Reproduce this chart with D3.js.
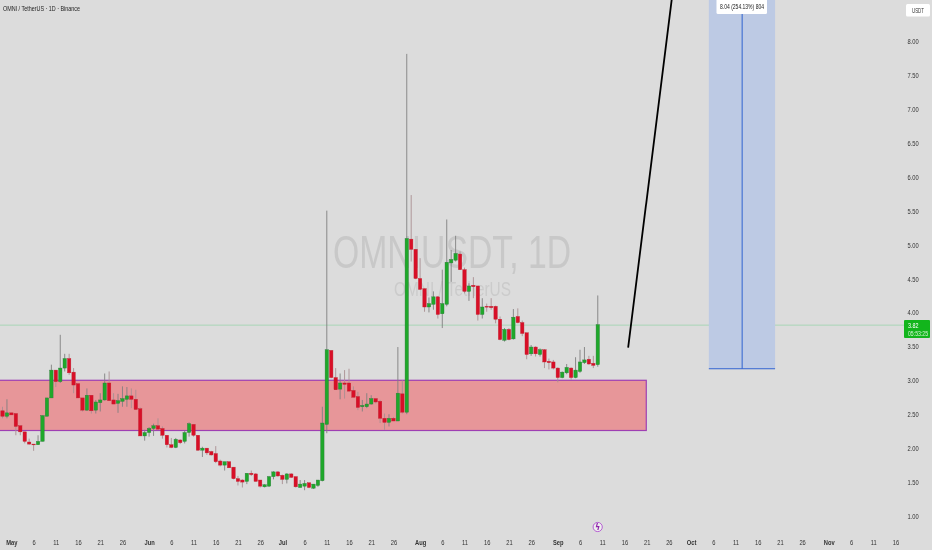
<!DOCTYPE html>
<html><head><meta charset="utf-8">
<script src="https://cdn.jsdelivr.net/npm/d3@7"></script>
<style>
html,body{margin:0;padding:0;background:#dcdcdc;overflow:hidden}
svg{display:block;filter:blur(0.2px)}
text{font-family:"Liberation Sans",Arial,sans-serif}
</style></head><body><svg id="c" width="932" height="550"></svg>
<script>
const startDate = "2025-04-29";
const opens = [2.55,2.47,2.52,2.51,2.33,2.24,2.09,2.06,2.05,2.10,2.47,2.74,3.15,2.98,3.18,3.32,3.12,2.95,2.74,2.56,2.78,2.56,2.67,2.71,2.96,2.71,2.66,2.69,2.72,2.77,2.72,2.58,2.18,2.23,2.29,2.33,2.29,2.19,2.05,2.01,2.12,2.10,2.23,2.35,2.19,1.97,2.00,1.95,1.92,1.81,1.75,1.80,1.72,1.55,1.53,1.51,1.63,1.62,1.53,1.43,1.44,1.58,1.65,1.60,1.54,1.62,1.58,1.42,1.44,1.49,1.41,1.45,1.52,2.35,3.44,3.04,2.87,2.96,2.96,2.85,2.76,2.61,2.61,2.65,2.73,2.69,2.44,2.38,2.44,2.40,2.80,2.53,5.08,4.93,4.50,4.35,4.08,4.12,4.23,3.98,4.12,4.73,4.77,4.86,4.63,4.31,4.40,4.39,3.97,4.09,4.09,4.09,3.90,3.59,3.75,3.61,3.94,3.85,3.70,3.39,3.49,3.38,3.45,3.28,3.27,3.18,3.04,3.11,3.18,3.04,3.13,3.26,3.31,3.25,3.23];
const closes = [2.47,2.52,2.49,2.32,2.24,2.10,2.06,2.05,2.10,2.48,2.74,3.15,2.98,3.18,3.32,3.11,2.93,2.74,2.56,2.78,2.55,2.68,2.71,2.96,2.70,2.65,2.70,2.73,2.77,2.72,2.57,2.18,2.23,2.29,2.33,2.28,2.19,2.05,2.01,2.13,2.08,2.23,2.36,2.19,1.97,2.00,1.93,1.90,1.80,1.75,1.80,1.71,1.55,1.51,1.50,1.63,1.61,1.51,1.44,1.46,1.58,1.65,1.59,1.54,1.62,1.57,1.43,1.47,1.48,1.42,1.47,1.53,2.37,3.45,3.04,2.86,2.96,2.94,2.84,2.75,2.60,2.63,2.65,2.73,2.68,2.44,2.38,2.44,2.40,2.81,2.53,5.09,4.93,4.50,4.34,4.08,4.13,4.23,3.97,4.13,4.74,4.78,4.87,4.63,4.31,4.39,4.38,3.97,4.08,4.08,4.07,3.90,3.60,3.75,3.60,3.93,3.85,3.69,3.38,3.49,3.39,3.45,3.27,3.26,3.18,3.04,3.12,3.19,3.04,3.15,3.27,3.30,3.24,3.22,3.82];
const highs = [2.61,2.72,2.52,2.51,2.34,2.24,2.14,2.06,2.19,2.48,2.74,3.23,3.15,3.67,3.39,3.39,3.18,2.95,2.74,2.88,2.78,2.71,2.81,3.10,3.13,2.81,2.80,2.91,2.90,2.88,2.86,2.60,2.27,2.31,2.36,2.44,2.32,2.19,2.15,2.15,2.13,2.26,2.38,2.35,2.19,2.02,2.00,1.96,2.03,1.83,1.80,1.80,1.72,1.59,1.54,1.63,1.67,1.63,1.53,1.47,1.59,1.66,1.66,1.61,1.63,1.63,1.58,1.53,1.53,1.49,1.47,1.53,2.61,5.50,3.44,3.18,3.10,3.15,3.17,2.91,2.83,2.71,2.81,2.78,2.73,2.71,2.51,2.50,2.46,3.49,3.00,7.81,5.73,4.93,4.80,4.35,4.22,4.31,4.24,4.63,5.37,4.92,5.13,4.90,4.66,4.43,4.52,4.39,4.21,4.13,4.21,4.10,3.94,3.77,3.77,4.05,4.06,3.88,3.70,3.52,3.50,3.47,3.46,3.32,3.30,3.19,3.13,3.24,3.19,3.34,3.45,3.49,3.36,3.36,4.25];
const lows = [2.44,2.44,2.49,2.19,2.19,2.07,2.05,1.96,2.05,2.10,2.47,2.74,2.90,2.96,3.13,3.08,2.81,2.74,2.54,2.55,2.51,2.51,2.54,2.70,2.70,2.65,2.52,2.61,2.61,2.59,2.57,2.18,2.11,2.17,2.18,2.28,2.14,2.01,2.00,2.00,2.06,2.07,2.17,2.17,1.96,1.87,1.90,1.89,1.78,1.73,1.67,1.71,1.54,1.45,1.42,1.47,1.59,1.51,1.42,1.42,1.43,1.54,1.58,1.47,1.48,1.56,1.42,1.42,1.38,1.41,1.40,1.43,1.51,2.22,3.03,2.86,2.72,2.73,2.84,2.75,2.56,2.54,2.59,2.64,2.66,2.37,2.27,2.32,2.40,2.40,2.51,2.50,4.75,4.49,4.33,4.01,4.00,4.04,3.91,3.77,4.09,4.45,4.75,4.63,4.28,4.17,4.21,3.88,3.91,4.01,4.04,3.84,3.59,3.57,3.59,3.60,3.84,3.65,3.31,3.36,3.35,3.35,3.18,3.16,3.16,2.97,3.03,3.09,3.01,3.03,3.11,3.24,3.23,3.18,3.20];

const priceTicks = [8,7.5,7,6.5,6,5.5,5,4.5,4,3.5,3,2.5,2,1.5,1];
const dateTicks = [["05-01","May"],["05-06","6"],["05-11","11"],["05-16","16"],["05-21","21"],["05-26","26"],["06-01","Jun"],["06-06","6"],["06-11","11"],["06-16","16"],["06-21","21"],["06-26","26"],["07-01","Jul"],["07-06","6"],["07-11","11"],["07-16","16"],["07-21","21"],["07-26","26"],["08-01","Aug"],["08-06","6"],["08-11","11"],["08-16","16"],["08-21","21"],["08-26","26"],["09-01","Sep"],["09-06","6"],["09-11","11"],["09-16","16"],["09-21","21"],["09-26","26"],["10-01","Oct"],["10-06","6"],["10-11","11"],["10-16","16"],["10-21","21"],["10-26","26"],["11-01","Nov"],["11-06","6"],["11-11","11"],["11-16","16"]];
const zonePrices = [3.0, 2.26];
const zoneEnd = "2025-09-20T22:00Z";
const boxDates = ["2025-10-05T00:00Z","2025-10-19T22:00Z"];
const boxMid = "2025-10-12T12:00Z";
const boxBottom = 3.17;
const arrowDates = ["2025-09-16T20:00Z","2025-09-26T16:00Z"];
const arrowPrices = [3.48, 8.62];
const lastPrice = 3.82;

const U = s => new Date(s);
const svg = d3.select("#c");
svg.append("rect").attr("width",932).attr("height",550).attr("fill","#dcdcdc");
const x = d3.scaleUtc().domain([U("2025-05-01T00:00Z"),U("2025-11-16T00:00Z")]).range([11.4,895.4]);
const y = d3.scaleLinear().domain([1,8]).range([516,41]);
// the reference's small labels are horizontally condensed
const squeeze = (sel,k) => sel.each(function(){
  const w = this.getComputedTextLength();
  d3.select(this).attr("textLength",w*k).attr("lengthAdjust","spacingAndGlyphs");
});

// watermark
svg.append("text").attr("x",333).attr("y",268).attr("textLength",238).attr("lengthAdjust","spacingAndGlyphs")
  .attr("font-size",46).attr("fill","#c8c8c8").text("OMNIUSDT, 1D");
svg.append("text").attr("x",394).attr("y",296).attr("textLength",117).attr("lengthAdjust","spacingAndGlyphs")
  .attr("font-size",20).attr("fill","#cbcbcb").text("OMNI / TetherUS");

// zone
const zx1 = x(U(zoneEnd));
svg.append("rect").attr("x",-3).attr("y",y(zonePrices[0])).attr("width",zx1+3).attr("height",y(zonePrices[1])-y(zonePrices[0]))
  .attr("fill","#e79699").attr("stroke","#9e3fb3").attr("stroke-width",1.2);

// price line
svg.append("line").attr("x1",0).attr("x2",904).attr("y1",y(lastPrice)+.5).attr("y2",y(lastPrice)+.5).attr("stroke","#a9d6b6").attr("stroke-width",1);

// box
const bx0=x(U(boxDates[0])), bx1=x(U(boxDates[1])), bxm=x(U(boxMid)), byb=y(boxBottom);
svg.append("rect").attr("x",bx0).attr("y",-2).attr("width",bx1-bx0).attr("height",byb+2).attr("fill","#bdcae4");
svg.append("line").attr("x1",bxm).attr("x2",bxm).attr("y1",0).attr("y2",byb).attr("stroke","#2f62d0").attr("stroke-width",1);
svg.append("line").attr("x1",bx0).attr("x2",bx1).attr("y1",byb).attr("y2",byb).attr("stroke","#2f62d0").attr("stroke-width",1.2);
svg.append("rect").attr("x",716.5).attr("y",-3).attr("width",50.5).attr("height",17).attr("rx",1.5).attr("fill","#fff");
svg.append("text").attr("x",742).attr("y",9).attr("text-anchor","middle").attr("textLength",44).attr("lengthAdjust","spacingAndGlyphs")
  .attr("font-size",7).attr("fill","#222").text("8.04 (254.13%) 804");

// arrow line
svg.append("path").attr("d",d3.line().x(d=>x(U(d[0]))).y(d=>y(d[1]))([[arrowDates[0],arrowPrices[0]],[arrowDates[1],arrowPrices[1]]]))
  .attr("stroke","#000").attr("stroke-width",1.8).attr("fill","none");

// candles
const candles = opens.map((o,i)=>({date:d3.utcDay.offset(U(startDate+"T00:00Z"),i),o,c:closes[i],h:highs[i],l:lows[i]}));
const g = svg.append("g").selectAll("g").data(candles).join("g");
const up = d => d.c>=d.o;
g.append("line").attr("x1",d=>x(d.date)).attr("x2",d=>x(d.date)).attr("y1",d=>y(d.h)).attr("y2",d=>y(d.l))
  .attr("stroke",d=>up(d)?"#808080":"#a98f92").attr("stroke-width",.9);
g.append("rect").attr("x",d=>x(d.date)-1.7).attr("width",3.4)
  .attr("y",d=>Math.min(y(d.o),y(d.c))).attr("height",d=>Math.max(.8,Math.abs(y(d.o)-y(d.c))))
  .attr("fill",d=>up(d)?"#1fa82a":"#d80f27").attr("stroke",d=>up(d)?"#2a7a3a":"#c0202f").attr("stroke-width",.4);

// axes
const ay = svg.append("g").attr("transform","translate(913,0)")
  .call(d3.axisRight(y).tickValues(priceTicks).tickSize(0).tickPadding(0).tickFormat(d3.format(".2f")));
ay.select(".domain").remove();
ay.selectAll("text").attr("text-anchor","middle").attr("x",0).attr("font-size",8).attr("fill","#333").call(squeeze,0.72);

const labelByDate = new Map(dateTicks.map(d=>["2025-"+d[0]+"T00:00:00.000Z",d[1]]));
const ax = svg.append("g").attr("transform","translate(0,538)")
  .call(d3.axisBottom(x).tickValues(dateTicks.map(d=>U("2025-"+d[0]+"T00:00Z"))).tickSize(0).tickPadding(0)
    .tickFormat(d=>labelByDate.get(d.toISOString())));
ax.select(".domain").remove();
ax.selectAll("text").attr("dy","0.32em").attr("y",4).attr("font-size",8).attr("fill","#333")
  .attr("font-weight",d=>isNaN(+labelByDate.get(d.toISOString()))?"700":"400").call(squeeze,0.72);

// title
svg.append("text").attr("x",3).attr("y",11).attr("textLength",77).attr("lengthAdjust","spacingAndGlyphs")
  .attr("font-size",8).attr("fill","#222").text("OMNI / TetherUS · 1D · Binance");

// USDT chip
svg.append("rect").attr("x",906).attr("y",4).attr("width",24).attr("height",12.5).attr("rx",1.5).attr("fill","#fff");
svg.append("text").attr("x",918).attr("y",12.5).attr("text-anchor","middle").attr("textLength",12).attr("lengthAdjust","spacingAndGlyphs").attr("font-size",7).attr("fill","#333").text("USDT");

// last price tag
svg.append("rect").attr("x",904).attr("y",320).attr("width",26).attr("height",18).attr("rx",1).attr("fill","#12b51c");
svg.append("text").attr("x",908).attr("y",327.5).attr("textLength",10.5).attr("lengthAdjust","spacingAndGlyphs").attr("font-size",8).attr("fill","#fff").text(d3.format(".2f")(lastPrice));
svg.append("text").attr("x",908).attr("y",335.5).attr("textLength",20).attr("lengthAdjust","spacingAndGlyphs").attr("font-size",6.5).attr("fill","#d4f5d4").text("05:53:25");

// event icon
svg.append("circle").attr("cx",597.7).attr("cy",527).attr("r",4.6).attr("fill","#eee").attr("stroke","#b04fd0").attr("stroke-width",.9);
svg.append("text").attr("x",597.7).attr("y",529.8).attr("text-anchor","middle").attr("font-size",8).attr("font-weight",700)
  .style("font-family","'DejaVu Sans',sans-serif").attr("fill","#8e24aa").text("ϟ");
</script></body></html>
